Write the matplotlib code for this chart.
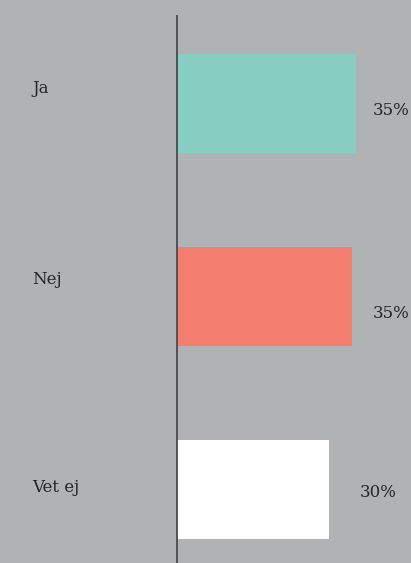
import matplotlib.pyplot as plt

# survey answers
categories = ["Ja", "Nej", "Vet ej"]
values = [35.4, 34.6, 30.0]
value_labels = ["35%", "35%", "30%"]
colors = ["#87cdc2", "#f47e6f", "#ffffff"]

bg = "#b0b3b3"

fig = plt.figure(figsize=(4.11, 5.63), dpi=100)
fig.patch.set_facecolor(bg)
ax = fig.add_axes([0, 0, 1, 1])
ax.set_facecolor(bg)

ypos = list(range(len(categories)))
ax.barh(ypos, values, height=0.513, color=colors, left=0)

ax.set_xlim(-35, 46.3)
ax.set_ylim(2.381, -0.536)

# vertical baseline
ax.vlines(0, -0.459, 2.381, color="#4a4a4a", linewidth=1.3, zorder=3)

# label nudges (in data units) to match reference placement
cat_dy = [-0.08, -0.09, -0.01]
val_x = [42.3, 42.3, 39.9]
val_dy = [0.035, 0.09, 0.015]

for i, cat in enumerate(categories):
    ax.text(-28.6, ypos[i] + cat_dy[i], cat, ha="left", va="center",
            fontsize=12, family="DejaVu Serif", color="#262626")
    ax.text(val_x[i], ypos[i] + val_dy[i], value_labels[i], ha="center", va="center",
            fontsize=12, family="DejaVu Serif", color="#262626")

ax.axis("off")

fig.savefig("out.png", dpi=100, facecolor=bg)
